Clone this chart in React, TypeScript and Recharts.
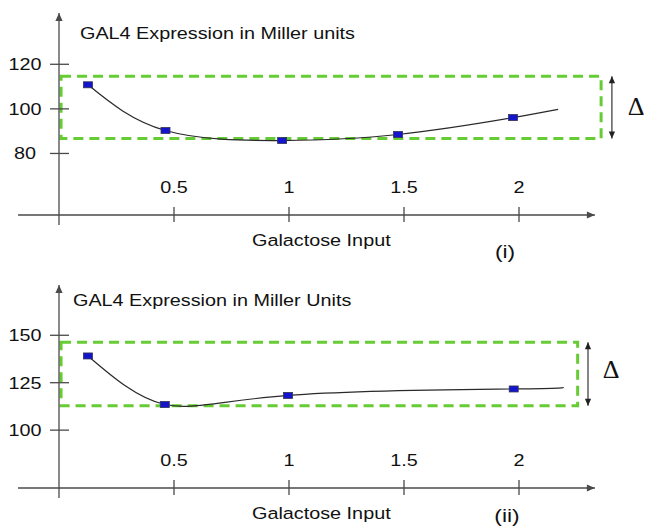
import {ComposedChart, Line, ReferenceArea, ReferenceLine, XAxis, YAxis} from 'recharts';

// galactose input (x) and GAL4 expression (Miller units)
const galactoseI = [0.126, 0.463, 0.97, 1.474, 1.974];
const expressionI = [110.8, 90.3, 85.8, 88.5, 96.1];
const curveEndI = {x: 2.17, y: 99.8};

const galactoseII = [0.126, 0.46, 0.996, 1.977];
const expressionII = [139.1, 113.5, 118.3, 121.7];
const curveEndII = {x: 2.19, y: 122.6};

const xTicks = [0.5, 1, 1.5, 2];
const yTicksI = [80, 100, 120];
const yTicksII = [100, 125, 150];

// dashed range box (delta) per panel
const boxI = {x1: 0.009, x2: 2.357, y1: 86.7, y2: 114.6, arrowX: 2.404};
const boxII = {x1: 0.009, x2: 2.255, y1: 112.9, y2: 146.3, arrowX: 2.3};

const AXIS = '#4a4a4a';
const GREEN = '#66cc33';
const FONT = '"Liberation Sans", Arial, sans-serif';

function buildRows(xs: number[], ys: number[], end: {x: number; y: number}) {
    const rows = xs.map((x, i) => ({x, y: ys[i], marked: true}));
    rows.push({x: end.x, y: end.y, marked: false});
    return rows;
}

const arrowShape = (both: boolean, color: string, width: number, head: number) => (props: any) => {
    const {x1, y1, x2, y2} = props;
    const dx = x2 - x1;
    const dy = y2 - y1;
    const len = Math.sqrt(dx * dx + dy * dy) || 1;
    const ux = dx / len;
    const uy = dy / len;
    const hw = head * 0.45;
    const tip = (tx: number, ty: number, sx: number, sy: number) => {
        const bx = tx - sx * head;
        const by = ty - sy * head;
        return `${tx},${ty} ${bx - sy * hw},${by + sx * hw} ${bx + sy * hw},${by - sx * hw}`;
    };
    return (
        <g>
            <line x1={x1} y1={y1} x2={x2} y2={y2} stroke={color} strokeWidth={width} />
            <polygon points={tip(x2, y2, ux, uy)} fill={color} />
            {both && <polygon points={tip(x1, y1, -ux, -uy)} fill={color} />}
        </g>
    );
};

const XTick = (props: any) => {
    const {x, y, payload} = props;
    return (
        <g>
            <line x1={x} x2={x} y1={y - 8} y2={y + 7} stroke={AXIS} strokeWidth={1.3} />
            <text transform={`translate(${x},${y - 22}) scale(1.2,1)`} textAnchor="middle" fontSize={16.5}
                  fontFamily={FONT} fill="#111">{String(payload.value)}</text>
        </g>
    );
};

const YTick = (props: any) => {
    const {x, y, payload} = props;
    return (
        <g>
            <line x1={x - 9} x2={x + 10} y1={y} y2={y} stroke={AXIS} strokeWidth={1.3} />
            <text transform={`translate(${x - 34},${y + 6}) scale(1.2,1)`} textAnchor="middle" fontSize={16.5}
                  fontFamily={FONT} fill="#111">{String(payload.value)}</text>
        </g>
    );
};

const renderDot = (props: any) => {
    const {cx, cy, payload, index} = props;
    if (!payload.marked) return <g key={`d${index}`} />;
    return <rect key={`d${index}`} x={cx - 4.5} y={cy - 3} width={9} height={6} fill="#1414cc" stroke="#333355" strokeWidth={0.8} />;
};

type PanelProps = {
    rows: {x: number; y: number; marked: boolean}[];
    yDomain: [number, number];
    yTicks: number[];
    box: typeof boxI;
    height: number;
    margin: {top: number; right: number; bottom: number; left: number};
};

function Panel({rows, yDomain, yTicks, box, height, margin}: PanelProps) {
    const pxPerUnit = (height - margin.top - margin.bottom - 30) / (yDomain[1] - yDomain[0]);
    const yBelow = yDomain[0] - 10 / pxPerUnit;
    return (
        <ComposedChart width={648} height={height} data={rows} margin={margin}>
            <XAxis type="number" dataKey="x" domain={[0, 2.4]} ticks={xTicks} interval={0} axisLine={false}
                   tickLine={false} tickSize={0} tickMargin={0} tick={<XTick />} height={30} allowDataOverflow />
            <YAxis type="number" domain={yDomain} ticks={yTicks} interval={0} axisLine={false} tickLine={false}
                   tickSize={0} tickMargin={0} tick={<YTick />} width={50} allowDataOverflow />
            <ReferenceLine segment={[{x: -0.178, y: yDomain[0]}, {x: 2.33, y: yDomain[0]}]} ifOverflow="visible"
                           shape={arrowShape(false, AXIS, 1.3, 8)} />
            <ReferenceLine segment={[{x: 0, y: yBelow}, {x: 0, y: yDomain[1]}]} ifOverflow="visible"
                           shape={arrowShape(false, AXIS, 1.3, 8)} />
            <ReferenceArea x1={box.x1} x2={box.x2} y1={box.y1} y2={box.y2} ifOverflow="visible" fill="none"
                           fillOpacity={0} stroke={GREEN} strokeWidth={3} strokeDasharray="10 6" />
            <ReferenceLine segment={[{x: box.arrowX, y: box.y1}, {x: box.arrowX, y: box.y2}]} ifOverflow="visible"
                           shape={arrowShape(true, '#222', 1.1, 7)} />
            <Line type="natural" dataKey="y" stroke="#2a2a2a" strokeWidth={1.2} dot={renderDot} activeDot={false}
                  isAnimationActive={false} />
        </ComposedChart>
    );
}

export default function App() {
    const txt = (x: number, y: number, s: string, size = 16.5, anchor: 'start' | 'middle' = 'start') => (
        <text transform={`translate(${x},${y}) scale(1.2,1)`} fontSize={size} fontFamily={FONT} fill="#111"
              textAnchor={anchor}>{s}</text>
    );
    return (
        <div style={{position: 'absolute', left: 0, top: 0, width: 648, height: 527, background: '#fff'}}>
            <div style={{position: 'absolute', left: 0, top: 0}}>
                <Panel rows={buildRows(galactoseI, expressionI, curveEndI)} yDomain={[52.4, 143]} yTicks={yTicksI}
                       box={boxI} height={265} margin={{top: 13, right: 37, bottom: 20, left: 9}} />
            </div>
            <div style={{position: 'absolute', left: 0, top: 270}}>
                <Panel rows={buildRows(galactoseII, expressionII, curveEndII)} yDomain={[69.5, 176.5]}
                       yTicks={yTicksII} box={boxII} height={257} margin={{top: 15, right: 37, bottom: 9, left: 9}} />
            </div>
            <svg width={648} height={527} style={{position: 'absolute', left: 0, top: 0, pointerEvents: 'none'}}>
                {txt(80, 39, 'GAL4 Expression in Miller units')}
                {txt(252, 246, 'Galactose Input')}
                {txt(505, 258, '(i)', 19, 'middle')}
                {txt(73, 306, 'GAL4 Expression in Miller Units')}
                {txt(252, 519, 'Galactose Input')}
                {txt(507, 522, '(ii)', 19, 'middle')}
                <text x={636} y={115} fontSize={26} fontFamily='"Liberation Serif", "DejaVu Serif", serif'
                      textAnchor="middle" fill="#111">Δ</text>
                <text x={611} y={378} fontSize={26} fontFamily='"Liberation Serif", "DejaVu Serif", serif'
                      textAnchor="middle" fill="#111">Δ</text>
            </svg>
        </div>
    );
}
